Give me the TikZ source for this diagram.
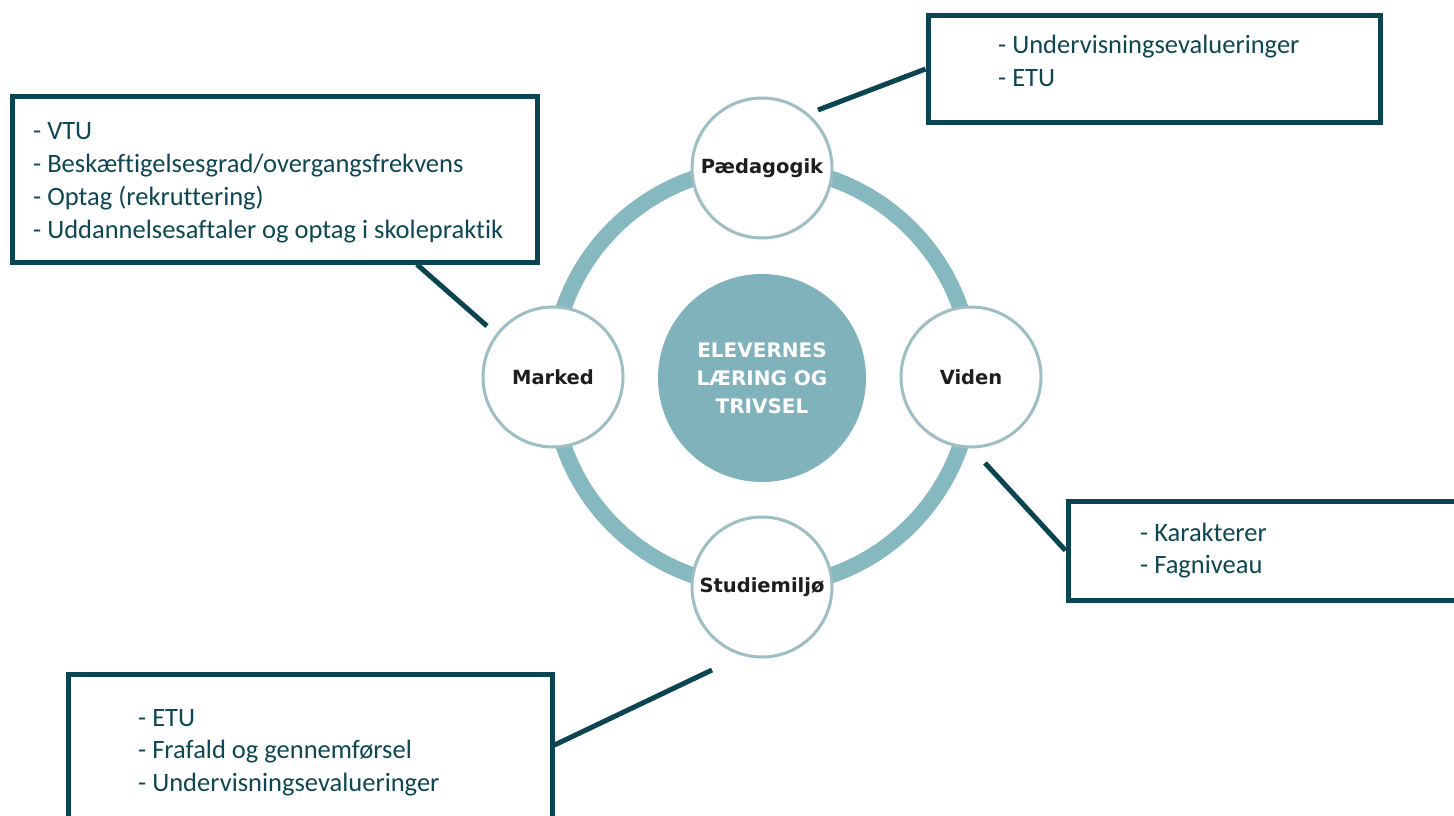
\documentclass[tikz,border=0pt]{standalone}
\usepackage{fontspec}
\setmainfont{Carlito}[Ligatures=NoCommon]
\newfontfamily\lblfont{DejaVu Sans}
\definecolor{ringc}{HTML}{86B8C0}
\definecolor{corec}{HTML}{7FB2BB}
\definecolor{edgec}{HTML}{9DBFC3}
\definecolor{boxc}{HTML}{0B4552}
\definecolor{txtc}{HTML}{0E4753}
\definecolor{lblc}{HTML}{1E1E1E}
\begin{document}
\begin{tikzpicture}[x=1pt,y=-1pt,
  sat/.style={circle, draw=edgec, line width=3pt, fill=white, minimum size=140pt, inner sep=0pt, font=\lblfont\bfseries\fontsize{19.5}{22}\selectfont, text=lblc},
  core/.style={circle, fill=corec, minimum size=208pt, inner sep=0pt, align=center, text=white, font=\lblfont\bfseries\fontsize{20}{28}\selectfont},
  infobox/.style={draw=boxc, line width=5pt, rectangle, inner sep=0pt},
  conn/.style={draw=boxc, line width=5pt},
  txt/.style={text=txtc, font=\fontsize{26.5}{33}\selectfont, anchor=base west, inner sep=0pt},
  ringline/.style={draw=ringc, line width=16pt}]
\clip (0,0) rectangle (1454,816);
\fill[white] (0,0) rectangle (1454,816);
% ring and circles
\coordinate (ctr) at (762,377);
\draw[ringline] (ctr) circle[radius=210pt];
\node[core] (core) at (762,378) {ELEVERNES\\LÆRING OG\\TRIVSEL};
\node[sat] (ped) at (762,168) {Pædagogik};
\node[sat] (mar) at (553,377) {Marked};
\node[sat] (vid) at (971,377) {Viden};
\node[sat] (stu) at (762,587) {Studiemiljø};
% boxes
\node[infobox, minimum width=525pt, minimum height=166pt] (bm) at (274.5,179) {};
\node[infobox, minimum width=452pt, minimum height=106pt] (bp) at (1154,69) {};
\node[infobox, minimum width=412pt, minimum height=99pt] (bv) at (1274,550.5) {};
\node[infobox, minimum width=484pt, minimum height=166pt] (bs) at (310,757) {};
% texts
\node[txt] (m1) at (33,139) {- VTU};
\node[txt] (m2) at (33,172) {- Beskæftigelsesgrad/overgangsfrekvens};
\node[txt] (m3) at (33,205) {- Optag (rekruttering)};
\node[txt] (m4) at (33,238) {- Uddannelsesaftaler og optag i skolepraktik};
\node[txt] (p1) at (998,54) {- Undervisningsevalueringer};
\node[txt] (p2) at (998,87) {- ETU};
\node[txt] (v1) at (1140,541) {- Karakterer};
\node[txt] (v2) at (1140,573) {- Fagniveau};
\node[txt] (s1) at (138,726) {- ETU};
\node[txt] (s2) at (138,758) {- Frafald og gennemførsel};
\node[txt] (s3) at (138,791) {- Undervisningsevalueringer};
% connectors
\coordinate (pEnd) at (818,110);
\coordinate (mEnd) at (487,326);
\coordinate (vEnd) at (985,463);
\coordinate (sEnd) at (712,670);
\draw[conn] (bp.west) -- (pEnd);
\draw[conn] (bm.south -| 417,0) -- (mEnd);
\draw[conn] (bv.west) -- (vEnd);
\draw[conn] (bs.east |- 0,745) -- (sEnd);
\end{tikzpicture}
\end{document}
